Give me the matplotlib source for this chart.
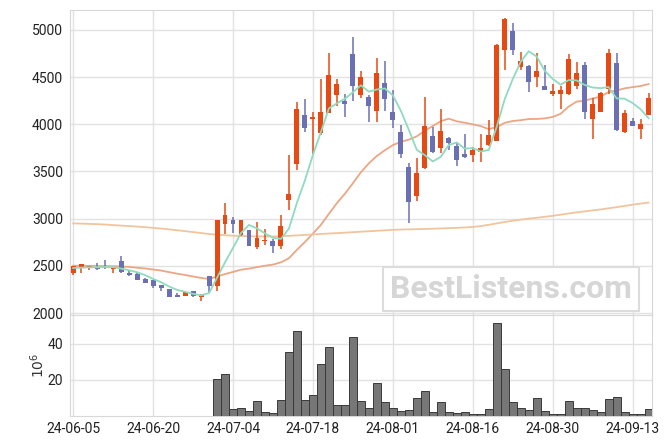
import numpy as np
import matplotlib
matplotlib.use("Agg")
import matplotlib.pyplot as plt

plt.rcParams['font.family'] = ['Roboto', 'DejaVu Sans']

# OHLC (trading-day index 0..72)
opens = [2430, 2490, 2475, 2485, 2490, 2472, 2550, 2428, 2412, 2365,
         2350, 2293, 2255, 2183, 2185, 2230, 2175, 2390, 2290, 2945,
         2985, 2832, 2880, 2705, 2762, 2765, 2715, 3202, 3583, 4100,
         4060, 3905, 4124, 4305, 4245, 4745, 4305, 4290, 4135, 4438,
         4130, 3920, 3548, 3245, 3540, 3875, 3752, 3858, 3770, 3682,
         3678, 3703, 3775, 3827, 4781, 4990, 4611, 4618, 4505, 4405,
         4322, 4318, 4318, 4410, 4629, 4053, 4134, 4378, 4647, 3915,
         4035, 3947, 4103]
highs = [2500, 2515, 2502, 2535, 2560, 2492, 2605, 2450, 2440, 2370,
         2352, 2300, 2258, 2215, 2225, 2232, 2198, 2395, 2990, 3165,
         3020, 2990, 2885, 2962, 2888, 2790, 3035, 3672, 4235, 4268,
         4127, 4477, 4753, 4477, 4318, 4922, 4562, 4307, 4700, 4668,
         4360, 3997, 3590, 3643, 4293, 3975, 4160, 3862, 3805, 3894,
         3763, 3894, 4046, 4845, 5120, 5071, 4763, 4622, 4753, 4625,
         4421, 4406, 4742, 4657, 4664, 4276, 4346, 4795, 4753, 4152,
         4064, 4053, 4329]
lows = [2400, 2430, 2455, 2458, 2472, 2430, 2420, 2392, 2350, 2318,
        2262, 2238, 2170, 2172, 2178, 2175, 2125, 2228, 2238, 2840,
        2850, 2815, 2712, 2682, 2718, 2640, 2675, 3092, 3513, 3915,
        3686, 3887, 4120, 4195, 4074, 4247, 4276, 4021, 4021, 4141,
        3955, 3643, 2950, 3190, 3530, 3700, 3700, 3728, 3562, 3646,
        3597, 3597, 3770, 3820, 4569, 4728, 4576, 4346, 4392, 4360,
        4304, 4163, 4310, 4375, 4057, 3845, 4130, 4322, 3930, 3910,
        3980, 3845, 4095]
closes = [2495, 2515, 2495, 2462, 2475, 2488, 2440, 2405, 2355, 2322,
          2290, 2270, 2173, 2175, 2222, 2178, 2195, 2290, 2985, 3040,
          2945, 2985, 2715, 2798, 2775, 2715, 2925, 3262, 4163, 3965,
          4060, 4130, 4523, 4428, 4210, 4400, 4500, 4188, 4544, 4262,
          4040, 3680, 3177, 3484, 3982, 3705, 3929, 3800, 3620, 3657,
          3728, 3750, 3887, 4841, 5117, 4788, 4671, 4446, 4565, 4365,
          4353, 4364, 4693, 4544, 4127, 4216, 4332, 4753, 3937, 4117,
          3986, 4004, 4276]

# volume in millions
volume = [0, 0, 0, 0, 0, 0, 0, 0, 0, 0,
          0, 0, 0, 0, 0, 0, 0, 0, 20.4, 23.1,
          3.9, 4.3, 2.8, 8.1, 2.0, 1.5, 8.7, 35.4, 47.0, 8.7,
          11.9, 28.7, 38.1, 5.9, 5.9, 43.7, 8.1, 4.3, 18.1, 7.6,
          4.3, 2.8, 3.2, 9.8, 13.7, 2.0, 7.6, 2.0, 1.5, 2.0,
          1.3, 1.3, 3.7, 51.5, 25.9, 7.6, 4.3, 3.2, 9.8, 2.6,
          1.3, 1.3, 8.1, 4.3, 4.3, 3.2, 2.0, 9.3, 10.4, 2.0,
          1.3, 1.3, 3.7]

# moving average lines as seen on the chart
ma5 = [2478, 2482, 2485, 2486, 2488, 2487, 2472, 2454, 2433, 2402,
       2362, 2328, 2282, 2246, 2226, 2204, 2189, 2212, 2374, 2538,
       2691, 2849, 2934, 2897, 2844, 2798, 2786, 2895, 3168, 3406,
       3675, 3916, 4168, 4221, 4270, 4338, 4412, 4345, 4368, 4379,
       4307, 4143, 3941, 3729, 3673, 3606, 3655, 3780, 3807, 3742,
       3747, 3711, 3728, 3973, 4265, 4477, 4661, 4773, 4717, 4567,
       4480, 4419, 4468, 4464, 4416, 4389, 4382, 4394, 4273, 4271,
       4225, 4159, 4064]
ma20 = [2502, 2501, 2500, 2499, 2498, 2497, 2494, 2489, 2481, 2473,
        2462, 2451, 2434, 2418, 2404, 2388, 2373, 2362, 2387, 2414,
        2436, 2460, 2471, 2487, 2502, 2514, 2538, 2581, 2671, 2753,
        2842, 2935, 3052, 3165, 3264, 3375, 3491, 3586, 3664, 3725,
        3779, 3814, 3837, 3872, 3932, 3981, 4032, 4059, 4031, 4016,
        3999, 3980, 3949, 3969, 4015, 4034, 4043, 4055, 4056, 4062,
        4077, 4111, 4187, 4240, 4248, 4273, 4293, 4341, 4357, 4380,
        4393, 4405, 4425]
ma60 = [2950, 2948, 2945, 2942, 2938, 2932, 2927, 2922, 2916, 2910,
        2903, 2895, 2887, 2878, 2868, 2858, 2848, 2838, 2830, 2825,
        2820, 2817, 2814, 2812, 2812, 2812, 2814, 2818, 2823, 2828,
        2833, 2838, 2843, 2847, 2852, 2857, 2862, 2867, 2872, 2877,
        2882, 2885, 2887, 2889, 2891, 2894, 2897, 2900, 2903, 2907,
        2912, 2922, 2935, 2950, 2965, 2978, 2990, 3000, 3010, 3020,
        3030, 3042, 3055, 3067, 3077, 3088, 3098, 3110, 3122, 3135,
        3148, 3160, 3170]

tick_pos = [0, 10, 20, 30, 40, 50, 60, 70]
tick_labels = ['24-06-05', '24-06-20', '24-07-04', '24-07-18',
               '24-08-01', '24-08-16', '24-08-30', '24-09-13']

UP = '#e64a12'
DOWN = '#6b70b4'

o = np.array(opens); h = np.array(highs); l = np.array(lows); c = np.array(closes)
x = np.arange(len(o))
up = c >= o
colors = np.where(up, UP, DOWN)

fig = plt.figure(figsize=(6.71, 4.44), dpi=100)
ax = fig.add_axes([0.1043, 0.2905, 0.867, 0.6875])
axv = fig.add_axes([0.1043, 0.063, 0.867, 0.2275], sharex=ax)

# candles
ax.vlines(x, l, h, color=colors, linewidth=1.1, zorder=3)
body_low = np.minimum(o, c)
body_h = np.maximum(np.abs(c - o), 12)
ax.bar(x, body_h, bottom=body_low, width=0.62, color=colors, zorder=4)

ax.plot(x, ma5, color='#8edbbf', linewidth=1.3, zorder=5)
ax.plot(x, ma20, color='#eca685', linewidth=1.3, zorder=2)
ax.plot(x, ma60, color='#f1c49e', linewidth=1.3, zorder=2)

ax.set_ylim(1980, 5212)
ax.set_yticks([2000, 2500, 3000, 3500, 4000, 4500, 5000])
ax.set_xlim(-0.4, 72.4)

# watermark
ax.text(0.758, 0.085, 'BestListens.com', transform=ax.transAxes, ha='center', va='center',
        fontsize=23, fontweight='bold', color='#d6d6d6', zorder=1,
        bbox=dict(boxstyle='square,pad=0.22', facecolor='white', edgecolor='#dcdcdc', linewidth=1.5))

# volume
vol = np.array(volume)
m = vol > 0
axv.bar(x[m], vol[m], width=1.0, color='#777777', edgecolor='#3a3a3a', linewidth=0.7, zorder=3)
axv.set_ylim(0, 56)
axv.set_yticks([20, 40])
axv.set_ylabel(r'$10^6$', fontsize=10, color='#333333', labelpad=0)
axv.set_xticks(tick_pos)
axv.set_xticklabels(tick_labels)

for a in (ax, axv):
    a.grid(True, color='#e2e2e2', linewidth=1.0, zorder=0)
    a.set_axisbelow(True)
    for s in a.spines.values():
        s.set_color('#d8d8d8')
    a.tick_params(length=0, labelsize=10, colors='#222222', pad=5)
axv.tick_params(axis='x', pad=4)
plt.setp(ax.get_xticklabels(), visible=False)

fig.savefig('out.png', dpi=100)
